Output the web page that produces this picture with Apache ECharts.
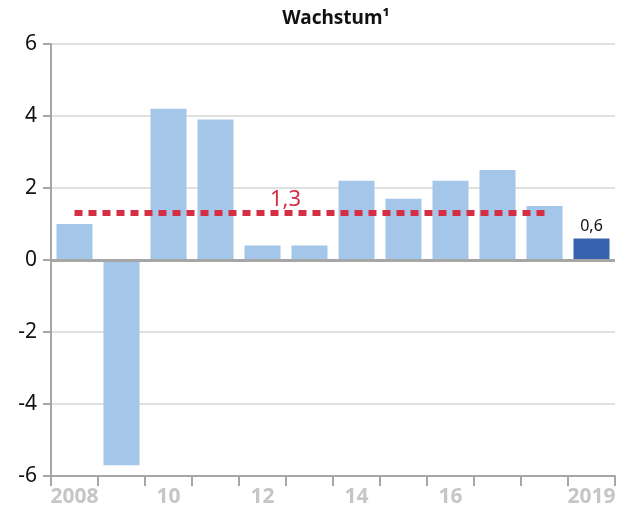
<!DOCTYPE html>
<html>
<head>
<meta charset="utf-8">
<script src="https://cdn.jsdelivr.net/npm/echarts@6/dist/echarts.min.js"></script>
<style>
  html, body { margin: 0; padding: 0; background: #fff; }
  #chart { width: 620px; height: 515px; }
</style>
</head>
<body>
<div id="chart"></div>
<script>
// Wachstum in %, 2008 bis 2019
const years = ['2008', '2009', '2010', '2011', '2012', '2013', '2014', '2015', '2016', '2017', '2018', '2019'];
const growth = [1.0, -5.7, 4.2, 3.9, 0.4, 0.4, 2.2, 1.7, 2.2, 2.5, 1.5, 0.6];
const xLabels = ['2008', '', '10', '', '12', '', '14', '', '16', '', '', '2019'];
const yTicks = [-6, -4, -2, 0, 2, 4, 6];
const average = 1.3;
const averageFrom = '2008';
const averageTo = '2018';
const highlightYear = '2019';

const font = 'Noto Sans';

let barData = growth.map((v, i) => {
  if (years[i] === highlightYear) {
    return {
      value: v,
      itemStyle: { color: '#3762ad' },
      label: {
        show: true,
        position: 'top',
        distance: 4,
        formatter: p => String(p.value).replace('.', ','),
        color: '#111',
        fontSize: 16,
        fontFamily: font
      }
    };
  }
  return v;
});

let chart = echarts.init(document.getElementById('chart'));
chart.setOption({
  animation: false,
  title: {
    text: 'Wachstum¹',
    left: 331,
    textAlign: 'center',
    top: 4,
    textStyle: { fontFamily: font, fontSize: 19, fontWeight: 'bold', color: '#111' }
  },
  grid: { left: 51, right: 5, top: 44, bottom: 39 },
  xAxis: {
    type: 'category',
    data: years,
    position: 'bottom',
    axisLine: { onZero: false, lineStyle: { color: '#a6a6a6', width: 2 } },
    axisTick: { show: true, length: 10, lineStyle: { color: '#a6a6a6', width: 2 } },
    axisLabel: {
      interval: 0,
      margin: 11,
      formatter: (v, i) => xLabels[i],
      color: '#c6c6c6',
      fontSize: 21,
      fontWeight: 'bold',
      fontFamily: font
    }
  },
  yAxis: {
    type: 'value',
    min: yTicks[0],
    max: yTicks[yTicks.length - 1],
    interval: 2,
    axisLine: { show: true, lineStyle: { color: '#a6a6a6', width: 2 } },
    axisTick: { show: true, length: 8, lineStyle: { color: '#a6a6a6', width: 2 } },
    axisLabel: { color: '#111', fontSize: 21, fontFamily: font, margin: 14 },
    splitLine: { lineStyle: { color: '#e0e0e0', width: 2 } }
  },
  series: [{
    type: 'bar',
    data: barData,
    barWidth: 36,
    itemStyle: { color: '#a3c6e9' },
    markLine: {
      silent: true,
      symbol: 'none',
      data: [
        [{
          yAxis: 0,
          x: 51,
          lineStyle: { type: 'solid', color: '#a6a6a6', width: 3 },
          label: { show: false }
        }, { yAxis: 0, x: 615 }],
        [{
          coord: [averageFrom, average],
          lineStyle: { type: [8, 6], color: '#d52f45', width: 6 },
          label: {
            show: true,
            position: 'middle',
            formatter: String(average).replace('.', ','),
            color: '#d52f45',
            fontSize: 22,
            fontFamily: font,
            offset: [-24, 3]
          }
        }, { coord: [averageTo, average] }]
      ]
    }
  }]
});
</script>
</body>
</html>
